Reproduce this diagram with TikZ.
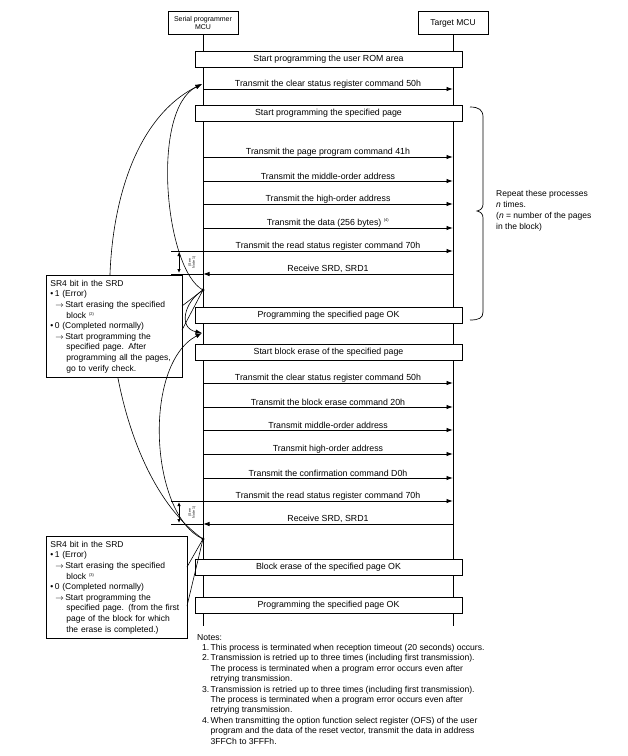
\documentclass[tikz,border=0pt]{standalone}
\usepackage{fontspec}
\setmainfont{Liberation Sans}
\usetikzlibrary{arrows.meta}

\tikzset{
  lbl/.style={above=-0.5pt, inner sep=1pt, font=\fontsize{8.8}{10}\selectfont},
  msg/.style={line width=0.9pt, -{Latex[length=6.5pt,width=4.5pt]}},
  life/.style={line width=1pt},
  stepbox/.style={draw, line width=1pt, fill=white, minimum width=267pt, minimum height=16pt, inner sep=0pt, font=\fontsize{8.8}{10}\selectfont},
  headbox/.style={draw, line width=1pt, fill=white, minimum width=70pt, minimum height=23pt, inner sep=0pt, align=center},
  srdbox/.style={draw, line width=0.8pt, fill=white, minimum height=102pt, inner xsep=4pt, inner ysep=0pt, align=left, anchor=north west, font=\fontsize{8.5}{10.6}\selectfont},
  flow/.style={line width=0.6pt},
  flowarr/.style={line width=0.6pt, -{Latex[length=6.5pt,width=4.5pt]}},
  waitarr/.style={line width=0.9pt, {Latex[length=4pt,width=3.5pt]}-{Latex[length=4pt,width=3.5pt]}},
  seenote/.style={rotate=90, inner sep=0pt, align=center, font=\fontsize{3.5}{4}\selectfont},
}

\begin{document}
\begin{tikzpicture}[x=1pt,y=-1pt]
      \useasboundingbox (0,0) rectangle (628,756);
      \node[headbox, font=\fontsize{7}{8.5}\selectfont] (ser) at (203,23) {Serial programmer\\MCU};
      \node[headbox, font=\fontsize{8.5}{10}\selectfont] (tgt) at (453,23) {Target MCU};
      \coordinate (serend) at (203,626);
      \coordinate (tgtend) at (453,626);
      \draw[life] (ser) -- (serend);
      \draw[life] (tgt) -- (tgtend);

      \coordinate (d1) at (203,290);
      \coordinate (d2) at (203,539);
      \coordinate (r1) at (202,84);
      \coordinate (r2) at (202,333);
      \draw[flowarr] (d2) .. controls (90,460) and (70,150) .. (r1);

      \coordinate (a1) at (203,89);   \coordinate (b1) at (453,89);
      \coordinate (a2) at (203,157);  \coordinate (b2) at (453,157);
      \coordinate (a3) at (203,181);  \coordinate (b3) at (453,181);
      \coordinate (a4) at (203,204);  \coordinate (b4) at (453,204);
      \coordinate (a5) at (203,228);  \coordinate (b5) at (453,228);
      \coordinate (a6) at (203,251);  \coordinate (b6) at (453,251);
      \coordinate (a7) at (203,274);  \coordinate (b7) at (453,274);
      \coordinate (a8) at (203,383);  \coordinate (b8) at (453,383);
      \coordinate (a9) at (203,407);  \coordinate (b9) at (453,407);
      \coordinate (a10) at (203,430); \coordinate (b10) at (453,430);
      \coordinate (a11) at (203,454); \coordinate (b11) at (453,454);
      \coordinate (a12) at (203,478); \coordinate (b12) at (453,478);
      \coordinate (a13) at (203,501); \coordinate (b13) at (453,501);
      \coordinate (a14) at (203,524); \coordinate (b14) at (453,524);
      \coordinate (w6) at (171,251);  \coordinate (w7) at (171,274);
      \coordinate (w13) at (171,501); \coordinate (w14) at (171,524);

      \draw[msg] (a1) -- node[lbl] {Transmit the clear status register command 50h} (b1);
      \draw[msg] (a2) -- node[lbl] {Transmit the page program command 41h} (b2);
      \draw[msg] (a3) -- node[lbl] {Transmit the middle-order address} (b3);
      \draw[msg] (a4) -- node[lbl] {Transmit the high-order address} (b4);
      \draw[msg] (a5) -- node[lbl] {Transmit the data (256 bytes) \textsuperscript{\fontsize{4}{4}\selectfont (4)}} (b5);
      \draw[life] (w6) -- (a6);
      \draw[msg] (a6) -- node[lbl] {Transmit the read status register command 70h} (b6);
      \draw[msg] (b7) -- node[lbl] {Receive SRD, SRD1} (a7);
      \draw[life] (a7) -- (w7);
      \draw[msg] (a8) -- node[lbl] {Transmit the clear status register command 50h} (b8);
      \draw[msg] (a9) -- node[lbl] {Transmit the block erase command 20h} (b9);
      \draw[msg] (a10) -- node[lbl] {Transmit middle-order address} (b10);
      \draw[msg] (a11) -- node[lbl] {Transmit high-order address} (b11);
      \draw[msg] (a12) -- node[lbl] {Transmit the confirmation command D0h} (b12);
      \draw[life] (w13) -- (a13);
      \draw[msg] (a13) -- node[lbl] {Transmit the read status register command 70h} (b13);
      \draw[msg] (b14) -- node[lbl] {Receive SRD, SRD1} (a14);
      \draw[life] (a14) -- (w14);

      \node[stepbox] (rom) at (328.5,59) {Start programming the user ROM area};
      \node[stepbox] (pgstart) at (328.5,113) {Start programming the specified page};
      \node[stepbox] (pgok) at (328.5,315) {Programming the specified page OK};
      \node[stepbox] (blkstart) at (328.5,352) {Start block erase of the specified page};
      \node[stepbox] (blkok) at (328.5,567) {Block erase of the specified page OK};
      \node[stepbox] (pgok2) at (328.5,605) {Programming the specified page OK};

      \node[srdbox, text width=128pt] (srd1) at (46,275) {SR4 bit in the SRD\\
        \textbullet\,1 (Error)\\
        \hspace*{5pt}$\rightarrow$\,Start erasing the specified\\
        \hspace*{16pt}block \textsuperscript{\fontsize{4}{4}\selectfont (2)}\\
        \textbullet\,0 (Completed normally)\\
        \hspace*{5pt}$\rightarrow$\,Start programming the\\
        \hspace*{16pt}specified page. After\\
        \hspace*{16pt}programming all the pages,\\
        \hspace*{16pt}go to verify check.};
      \node[srdbox, text width=133pt] (srd2) at (46,536) {SR4 bit in the SRD\\
        \textbullet\,1 (Error)\\
        \hspace*{5pt}$\rightarrow$\,Start erasing the specified\\
        \hspace*{16pt}block \textsuperscript{\fontsize{4}{4}\selectfont (3)}\\
        \textbullet\,0 (Completed normally)\\
        \hspace*{5pt}$\rightarrow$\,Start programming the\\
        \hspace*{16pt}specified page. (from the first\\
        \hspace*{16pt}page of the block for which\\
        \hspace*{16pt}the erase is completed.)};

      \coordinate (p1) at (182,306);
      \coordinate (p2) at (182,330);
      \coordinate (p3) at (187,567);
      \coordinate (p4) at (187,606);
      \draw[flowarr] (d1) .. controls (165,270) and (150,110) .. (r1);
      \draw[flowarr] (d1) .. controls (184,302) and (178,328) .. (r2);
      \draw[flowarr] (d2) .. controls (150,515) and (142,365) .. (r2);
      \draw[flow] (d1) -- (p1);
      \draw[flow] (d1) -- (p2);
      \draw[flow] (d2) -- (p3);
      \draw[flow] (d2) -- (p4);
      \fill (d1) circle (1.7pt);
      \fill (d2) circle (1.7pt);

      \coordinate (u1) at (179,252); \coordinate (u2) at (179,273);
      \coordinate (u3) at (179,502); \coordinate (u4) at (179,523);
      \draw[waitarr] (u1) -- (u2);
      \draw[waitarr] (u3) -- (u4);
      \node[seenote] (see1) at (192,262.5) {(See\\Note 1)};
      \node[seenote] (see2) at (192,512.5) {(See\\Note 1)};

      \draw[line width=0.7pt] (470,107) .. controls (479,107) and (483,110) .. (483,117) -- (483,204)
        .. controls (483,208) and (481,210) .. (477,211) .. controls (481,212) and (483,214) .. (483,218)
        -- (483,312) .. controls (483,318) and (479,320) .. (470,320);
      \node[anchor=north west, inner sep=0pt, align=left, font=\fontsize{8.5}{11}\selectfont] (rep) at (496,190)
        {Repeat these processes\\\textit{n} times.\\(\textit{n} = number of the pages\\in the block)};

      \node[anchor=north west, inner sep=0pt, align=left, font=\fontsize{8.6}{10.4}\selectfont] (notes) at (197,634) {Notes:\\
        \hspace*{5pt}\makebox[8.5pt][l]{1.}This process is terminated when reception timeout (20 seconds) occurs.\\
        \hspace*{5pt}\makebox[8.5pt][l]{2.}Transmission is retried up to three times (including first transmission).\\
        \hspace*{13.5pt}The process is terminated when a program error occurs even after\\
        \hspace*{13.5pt}retrying transmission.\\
        \hspace*{5pt}\makebox[8.5pt][l]{3.}Transmission is retried up to three times (including first transmission).\\
        \hspace*{13.5pt}The process is terminated when a program error occurs even after\\
        \hspace*{13.5pt}retrying transmission.\\
        \hspace*{5pt}\makebox[8.5pt][l]{4.}When transmitting the option function select register (OFS) of the user\\
        \hspace*{13.5pt}program and the data of the reset vector, transmit the data in address\\
        \hspace*{13.5pt}3FFCh to 3FFFh.};
\end{tikzpicture}
\end{document}
